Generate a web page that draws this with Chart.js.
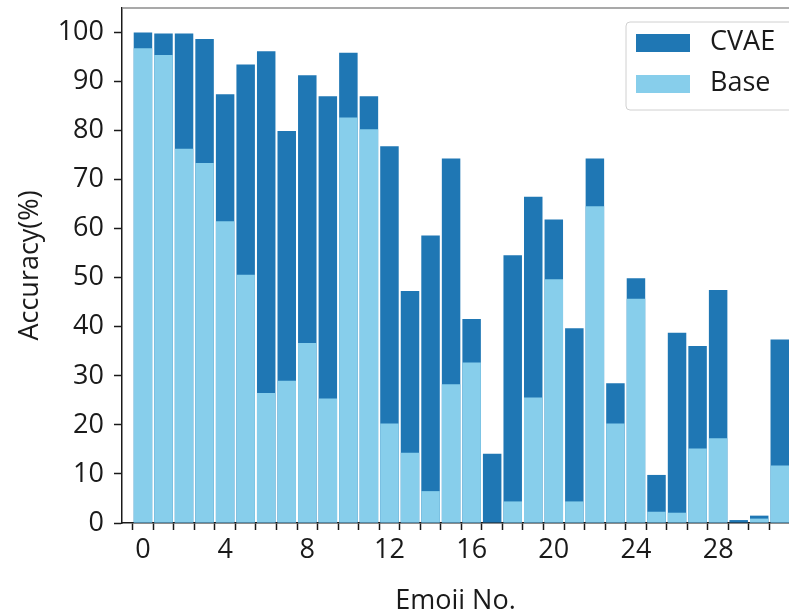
<!DOCTYPE html>
<html>
<head>
<meta charset="utf-8">
<script src="https://cdn.jsdelivr.net/npm/chart.js@4/dist/chart.umd.min.js"></script>
<style>
  html, body { margin: 0; padding: 0; background: #fff; }
  #wrap { width: 789px; height: 609px; }
</style>
</head>
<body>
<div id="wrap"><canvas id="chart"></canvas></div>
<script>
// emoji numbers 0..31
const emojiIds = [0, 1, 2, 3, 4, 5, 6, 7, 8, 9, 10, 11, 12, 13, 14, 15,
                  16, 17, 18, 19, 20, 21, 22, 23, 24, 25, 26, 27, 28, 29, 30, 31];
// accuracy (%)
const cvaeAcc = [100, 99.8, 99.8, 98.7, 87.4, 93.5, 96.2, 79.9, 91.3, 87.0, 95.9, 87.0,
                 76.8, 47.3, 58.6, 74.3, 41.6, 14.1, 54.6, 66.5, 61.9, 39.7, 74.3, 28.5,
                 49.9, 9.8, 38.8, 36.1, 47.5, 0.6, 1.5, 37.4];
const baseAcc = [96.8, 95.4, 76.3, 73.4, 61.5, 50.6, 26.5, 29.0, 36.7, 25.4, 82.7, 80.3,
                 20.3, 14.3, 6.5, 28.3, 32.7, 0, 4.4, 25.6, 49.7, 4.4, 64.6, 20.3,
                 45.7, 2.3, 2.1, 15.2, 17.3, 0, 0.9, 11.7];
const yTicks = [0, 10, 20, 30, 40, 50, 60, 70, 80, 90, 100];
const seriesNames = ['CVAE', 'Base'];
const seriesColors = ['#1f77b4', '#87ceeb'];

const FONT = "'Open Sans', 'DejaVu Sans', sans-serif";
const FS = 27;

// box legend in the upper right corner, like matplotlib's
const boxLegend = {
    id: 'boxLegend',
    afterDraw(chart) {
        const ctx = chart.ctx, a = chart.chartArea;
        ctx.save();
        // top spine
        ctx.strokeStyle = '#8c8c8c';
        ctx.lineWidth = 1.5;
        ctx.beginPath();
        ctx.moveTo(a.left, a.top);
        ctx.lineTo(a.right, a.top);
        ctx.stroke();

        const x = a.right - 163, y = a.top + 14;
        ctx.beginPath();
        ctx.roundRect(x, y, 200, 88, 4);
        ctx.fillStyle = 'rgba(255,255,255,0.85)';
        ctx.fill();
        ctx.strokeStyle = '#d0d0d0';
        ctx.lineWidth = 1;
        ctx.stroke();
        ctx.font = FS + 'px ' + FONT;
        ctx.textBaseline = 'middle';
        seriesNames.forEach((name, i) => {
            const ry = y + 12 + i * 41;
            ctx.fillStyle = seriesColors[i];
            ctx.fillRect(x + 10, ry, 54, 18);
            ctx.fillStyle = '#1a1a1a';
            ctx.fillText(name, x + 84, ry + 8);
        });
        ctx.restore();
    }
};

new Chart(document.getElementById('chart'), {
    type: 'bar',
    data: {
        datasets: [
            {
                label: seriesNames[0],
                data: emojiIds.map((id, i) => ({ x: id, y: cvaeAcc[i] })),
                backgroundColor: seriesColors[0],
                order: 2
            },
            {
                label: seriesNames[1],
                data: emojiIds.map((id, i) => ({ x: id, y: baseAcc[i] })),
                backgroundColor: seriesColors[1],
                order: 1
            }
        ]
    },
    options: {
        responsive: true,
        maintainAspectRatio: false,
        animation: false,
        grouped: false,
        categoryPercentage: 1,
        barPercentage: 0.9,
        layout: { padding: { top: 8, right: 0, left: 0, bottom: 0 } },
        plugins: { legend: { display: false }, tooltip: { enabled: false } },
        scales: {
            x: {
                type: 'linear',
                offset: false,
                min: -1.02,
                max: 31.45,
                afterBuildTicks: s => { s.ticks = emojiIds.map(v => ({ value: v })); },
                afterFit: s => { s.height = 86; s.paddingLeft = 0; s.paddingRight = 0; },
                ticks: {
                    autoSkip: false,
                    maxRotation: 0,
                    padding: 4,
                    color: '#1a1a1a',
                    font: { family: FONT, size: FS },
                    callback: v => (v % 4 === 0 ? String(v) : '')
                },
                grid: { drawOnChartArea: false, tickLength: 7, tickWidth: 1.5, color: '#1a1a1a' },
                border: { display: true, color: '#1a1a1a', width: 1.5 },
                title: {
                    display: true,
                    text: 'Emoji No.',
                    color: '#1a1a1a',
                    font: { family: FONT, size: FS },
                    padding: { top: 0, bottom: -9 }
                }
            },
            y: {
                min: 0,
                max: 105,
                afterBuildTicks: s => { s.ticks = yTicks.map(v => ({ value: v })); },
                afterFit: s => { s.width = 122; s.paddingTop = 0; s.paddingBottom = 0; },
                ticks: {
                    padding: 10,
                    color: '#1a1a1a',
                    font: { family: FONT, size: FS }
                },
                grid: { drawOnChartArea: false, tickLength: 8, tickWidth: 1.5, color: '#1a1a1a' },
                border: { display: true, color: '#1a1a1a', width: 1.5 },
                title: {
                    display: true,
                    text: 'Accuracy(%)',
                    color: '#1a1a1a',
                    font: { family: FONT, size: FS },
                    padding: { top: 14, bottom: 0 }
                }
            }
        }
    },
    plugins: [boxLegend]
});
</script>
</body>
</html>
